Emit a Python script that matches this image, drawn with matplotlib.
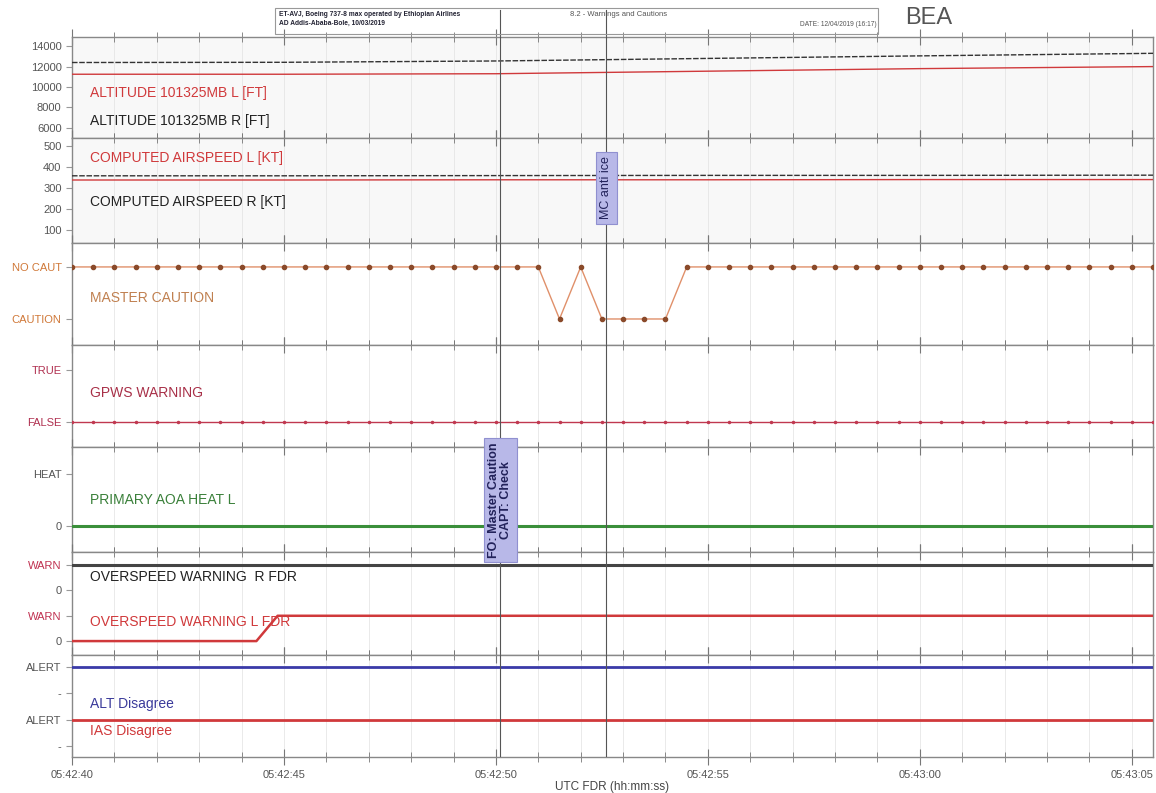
import numpy as np
import matplotlib
matplotlib.use("Agg")
import matplotlib.pyplot as plt
from matplotlib.ticker import MultipleLocator, FuncFormatter
from matplotlib.patches import Rectangle
from matplotlib.transforms import blended_transform_factory

plt.rcParams['font.family'] = ['Liberation Sans', 'DejaVu Sans']

# time in seconds after 05:42:40 UTC
t_end = 25.5

alt_time = [0, 5, 10, 15, 20, 25.5]
alt_left = [11250, 11250, 11300, 11550, 11800, 12000]
alt_right = [12400, 12420, 12550, 12800, 13050, 13300]

ias_time = [0, 5, 10, 15, 20, 25.5]
ias_left = [338, 338, 339, 339, 340, 340]
ias_right = [358, 358, 359, 360, 360, 361]

# 2 Hz samples, 1 = NO CAUT, 0 = CAUTION
mc_time = np.arange(52) * 0.5
mc_state = [1, 1, 1, 1, 1, 1, 1, 1, 1, 1, 1, 1, 1, 1, 1, 1, 1, 1, 1, 1, 1, 1, 1,
            0, 1, 0, 0, 0, 0,
            1, 1, 1, 1, 1, 1, 1, 1, 1, 1, 1, 1, 1, 1, 1, 1, 1, 1, 1, 1, 1, 1, 1]
gpws_state = [0] * 52

flat_time = [0, 25.5]
aoa_heat = [0, 0]
ovs_r = [1, 1]
ovs_l_time = [0, 4.35, 4.85, 25.5]
ovs_l = [0, 0, 1, 1]
alt_disagree = [1, 1]
ias_disagree = [1, 1]

event_times = [10.1, 12.6]

RED = '#d0393b'
W, H = 1156, 793
bounds = [(37, 138), (138, 243), (243, 345), (345, 447), (447, 552), (552, 655), (655, 757)]

fig = plt.figure(figsize=(W / 100, H / 100), dpi=100)
axes = []
for top, bot in bounds:
    ax = fig.add_axes([72 / W, 1 - bot / H, (1153 - 72) / W, (bot - top) / H])
    ax.set_xlim(0, t_end)
    ax.xaxis.set_major_locator(MultipleLocator(5))
    ax.xaxis.set_minor_locator(MultipleLocator(1))
    ax.tick_params(axis='x', which='both', top=True, bottom=True, direction='inout',
                   colors='#777', labelbottom=False)
    ax.tick_params(axis='x', which='major', length=12)
    ax.tick_params(axis='x', which='minor', length=7)
    ax.tick_params(axis='y', length=4, colors='#999', labelsize=8, labelcolor='#555')
    ax.grid(axis='x', which='both', color='#e6e6e6', lw=0.6)
    for s in ax.spines.values():
        s.set_color('#888')
        s.set_linewidth(1.0)
    for et in event_times:
        ax.axvline(et, color='#555', lw=0.8, zorder=4)
    axes.append(ax)

ax_alt, ax_ias, ax_mc, ax_gpws, ax_aoa, ax_ovs, ax_dis = axes

# altitude
ax_alt.set_facecolor('#f8f8f8')
ax_alt.plot(alt_time, alt_right, color='#333', lw=1.0, ls=(0, (4, 1.2)), zorder=3)
ax_alt.plot(alt_time, alt_left, color=RED, lw=1.0, zorder=3)
ax_alt.set_ylim(5000, 14900)
ax_alt.set_yticks([6000, 8000, 10000, 12000, 14000])
ax_alt.text(0.017, 0.445, 'ALTITUDE 101325MB L [FT]', transform=ax_alt.transAxes,
            color=RED, fontsize=10, va='center')
ax_alt.text(0.017, 0.17, 'ALTITUDE 101325MB R [FT]', transform=ax_alt.transAxes,
            color='#222', fontsize=10, va='center')
for et in event_times:
    ax_alt.axvline(et, ymin=1, ymax=1.27, color='#555', lw=0.8, clip_on=False)

# airspeed
ax_ias.set_facecolor('#f8f8f8')
ax_ias.plot(ias_time, ias_right, color='#333', lw=1.0, ls=(0, (4, 1.2)), zorder=3)
ax_ias.plot(ias_time, ias_left, color=RED, lw=1.0, zorder=3)
ax_ias.set_ylim(38, 538)
ax_ias.set_yticks([100, 200, 300, 400, 500])
ax_ias.text(0.017, 0.81, 'COMPUTED AIRSPEED L [KT]', transform=ax_ias.transAxes,
            color=RED, fontsize=10, va='center')
ax_ias.text(0.017, 0.39, 'COMPUTED AIRSPEED R [KT]', transform=ax_ias.transAxes,
            color='#222', fontsize=10, va='center')

# master caution
ax_mc.plot(mc_time, mc_state, color='#e0906a', lw=1.0, marker='o', ms=3,
           mfc='#8a4a2a', mec='#8a4a2a', zorder=3)
ax_mc.set_ylim(-0.5, 1.46)
ax_mc.set_yticks([0, 1])
ax_mc.set_yticklabels(['CAUTION', 'NO CAUT'])
for lab in ax_mc.get_yticklabels():
    lab.set_color('#d07838')
ax_mc.text(0.017, 0.46, 'MASTER CAUTION', transform=ax_mc.transAxes,
           color='#c08050', fontsize=10, va='center')

# gpws
ax_gpws.plot(mc_time, gpws_state, color='#c03850', lw=1.0, marker='o', ms=1.5, zorder=3)
ax_gpws.set_ylim(-0.48, 1.48)
ax_gpws.set_yticks([0, 1])
ax_gpws.set_yticklabels(['FALSE', 'TRUE'])
for lab in ax_gpws.get_yticklabels():
    lab.set_color('#b03050')
ax_gpws.text(0.017, 0.53, 'GPWS WARNING', transform=ax_gpws.transAxes,
             color='#a83048', fontsize=10, va='center')

# aoa heat
ax_aoa.plot(flat_time, aoa_heat, color='#3a8f3a', lw=2.2, zorder=3)
ax_aoa.set_ylim(-0.5, 1.52)
ax_aoa.set_yticks([0, 1])
ax_aoa.set_yticklabels(['0', 'HEAT'])
ax_aoa.text(0.017, 0.495, 'PRIMARY AOA HEAT L', transform=ax_aoa.transAxes,
            color='#3a803a', fontsize=10, va='center')

# overspeed (R on upper band, L on lower band)
ax_ovs.plot(flat_time, [2 + v for v in ovs_r], color='#444', lw=2.2, zorder=3)
ax_ovs.plot(ovs_l_time, ovs_l, color=RED, lw=1.8, zorder=3)
ax_ovs.set_ylim(-0.55, 3.52)
ax_ovs.set_yticks([0, 1, 2, 3])
ax_ovs.set_yticklabels(['0', 'WARN', '0', 'WARN'])
for lab in ax_ovs.get_yticklabels():
    if lab.get_text() == 'WARN':
        lab.set_color('#c03050')
ax_ovs.text(0.017, 0.76, 'OVERSPEED WARNING  R FDR', transform=ax_ovs.transAxes,
            color='#222', fontsize=10, va='center')
ax_ovs.text(0.017, 0.32, 'OVERSPEED WARNING L FDR', transform=ax_ovs.transAxes,
            color=RED, fontsize=10, va='center')

# disagree alerts
ax_dis.plot(flat_time, [2 + v for v in alt_disagree], color='#3a3aa8', lw=2.0, zorder=3)
ax_dis.plot(flat_time, ias_disagree, color=RED, lw=2.0, zorder=3)
ax_dis.set_ylim(-0.42, 3.46)
ax_dis.set_yticks([0, 1, 2, 3])
ax_dis.set_yticklabels(['-', 'ALERT', '-', 'ALERT'])
ax_dis.text(0.017, 0.52, 'ALT Disagree', transform=ax_dis.transAxes,
            color='#3a3a9a', fontsize=10, va='center')
ax_dis.text(0.017, 0.25, 'IAS Disagree', transform=ax_dis.transAxes,
            color=RED, fontsize=10, va='center')
ax_dis.tick_params(axis='x', which='major', labelbottom=True, labelsize=8,
                   labelcolor='#555', pad=3)
ax_dis.xaxis.set_major_formatter(
    FuncFormatter(lambda v, p: '05:%02d:%02d' % (42 + int(40 + v) // 60, int(40 + v) % 60)))
ax_dis.set_xlabel('UTC FDR (hh:mm:ss)', fontsize=8.5, color='#444', labelpad=1)

# event annotation boxes, drawn on the figure so they sit above every panel
box = dict(boxstyle='square,pad=0.35', fc='#b8b8e8', ec='#9090d0', lw=0.8)
tr = blended_transform_factory(ax_ias.transData, fig.transFigure)
fig.text(event_times[1], 1 - 188 / H, 'MC anti ice', transform=tr, rotation=90,
         ha='center', va='center', fontsize=9, color='#22225a', bbox=box, zorder=6)
tr = blended_transform_factory(ax_aoa.transData, fig.transFigure)
fig.text(event_times[0], 1 - 500 / H, 'FO: Master Caution\nCAPT: Check', transform=tr,
         rotation=90, ha='center', va='center', fontsize=9, fontweight='bold',
         color='#22225a', bbox=box, zorder=6, linespacing=1.0)

# header block
fig.patches.append(Rectangle((275 / W, 1 - 34 / H), (878 - 275) / W, 26 / H,
                             transform=fig.transFigure, fill=False, ec='#999', lw=0.8))
fig.text(279 / W, 1 - 14 / H, 'ET-AVJ, Boeing 737-8 max operated by Ethiopian Airlines',
         fontsize=4.8, color='#223', fontweight='bold', va='center')
fig.text(279 / W, 1 - 23 / H, 'AD Addis-Ababa-Bole, 10/03/2019',
         fontsize=4.8, color='#223', fontweight='bold', va='center')
fig.text(570 / W, 1 - 14 / H, '8.2 - Warnings and Cautions',
         fontsize=5.5, color='#555', va='center')
fig.text(800 / W, 1 - 25 / H, 'DATE: 12/04/2019 (16:17)',
         fontsize=4.8, color='#555', va='center')
fig.text(905 / W, 1 - 18 / H, 'BEA', fontsize=17, color='#555', va='center')

fig.savefig('out.png', dpi=100)
